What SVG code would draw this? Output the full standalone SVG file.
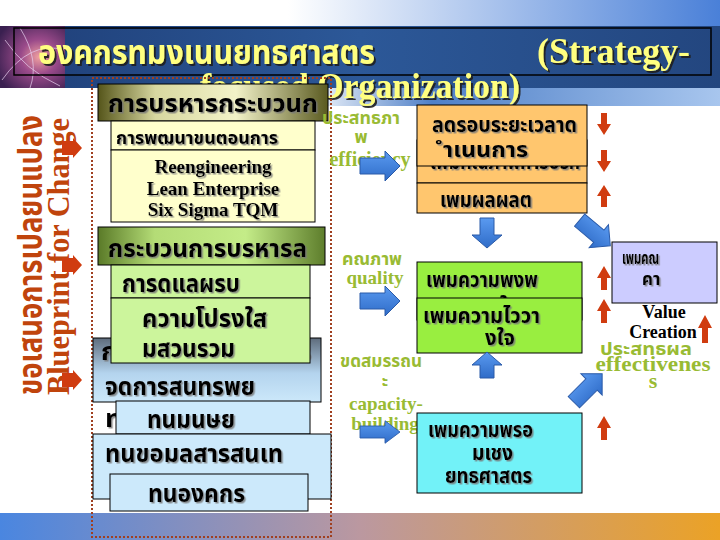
<svg xmlns="http://www.w3.org/2000/svg" width="720" height="540" viewBox="0 0 720 540">
<defs>
<linearGradient id="topStrip" x1="0" y1="0" x2="1" y2="0"><stop offset="0" stop-color="#ffffff"/><stop offset="0.4" stop-color="#ffffff"/><stop offset="1" stop-color="#4a80d8"/></linearGradient>
<linearGradient id="darkBand" x1="0" y1="0" x2="1" y2="0"><stop offset="0" stop-color="#1f3f78"/><stop offset="0.5" stop-color="#2c5898"/><stop offset="1" stop-color="#23467f"/></linearGradient>
<linearGradient id="lowStrip" x1="0" y1="0" x2="1" y2="0"><stop offset="0" stop-color="#ffffff"/><stop offset="0.42" stop-color="#ffffff"/><stop offset="0.6" stop-color="#4f80c8"/><stop offset="1" stop-color="#a8c6ee"/></linearGradient>
<linearGradient id="botBand" x1="0" y1="0" x2="1" y2="0"><stop offset="0" stop-color="#4a86e0"/><stop offset="0.5" stop-color="#bb98a0"/><stop offset="1" stop-color="#eba226"/></linearGradient>
<radialGradient id="globe" cx="0.6" cy="0.5" r="0.7"><stop offset="0" stop-color="#f0a0a0"/><stop offset="0.4" stop-color="#9a4a8a"/><stop offset="1" stop-color="#3a2050"/></radialGradient>
<linearGradient id="olive" x1="0" y1="0" x2="1" y2="0"><stop offset="0" stop-color="#55551a"/><stop offset="0.25" stop-color="#d8d8a0"/><stop offset="0.6" stop-color="#f2f2c8"/><stop offset="1" stop-color="#5a5a20"/></linearGradient>
<linearGradient id="greenHdr" x1="0" y1="0" x2="1" y2="0"><stop offset="0" stop-color="#5a7a28"/><stop offset="0.25" stop-color="#b4dc76"/><stop offset="0.65" stop-color="#c4ec88"/><stop offset="1" stop-color="#5e7e2c"/></linearGradient>
<linearGradient id="greyHdr" x1="0" y1="0" x2="0" y2="1"><stop offset="0" stop-color="#5e6c7c"/><stop offset="0.55" stop-color="#b4d4ee"/><stop offset="1" stop-color="#cce8fa"/></linearGradient>
<linearGradient id="blueArr" x1="0" y1="0" x2="0" y2="1"><stop offset="0" stop-color="#5a9af0"/><stop offset="1" stop-color="#2f6cc8"/></linearGradient>
<filter id="sh" x="-5%" y="-20%" width="110%" height="140%"><feDropShadow dx="1.5" dy="1.5" stdDeviation="0.4" flood-color="#777" flood-opacity="0.8"/></filter>
<filter id="tsh" x="-5%" y="-20%" width="110%" height="140%"><feDropShadow dx="2" dy="2" stdDeviation="0.5" flood-color="#1a1a1a" flood-opacity="0.9"/></filter>
<path id="arrR" d="M-20,-8 H5 V-15 L20,0 L5,15 V8 H-20 Z"/>
</defs>
<style>
.th{font-family:'Noto Sans Thai','Tahoma','DejaVu Sans',sans-serif;font-weight:bold;fill:#000}
.en{font-family:'Liberation Serif',serif;font-weight:bold}
.box{stroke:#000;stroke-width:1}
.barrow{fill:url(#blueArr);stroke:#2a5aa8;stroke-width:1}
.rarrow{fill:#d03c10}
</style>

<!-- background bands -->
<rect x="0" y="0" width="720" height="26" fill="url(#topStrip)"/>
<rect x="0" y="26" width="720" height="62" fill="url(#darkBand)"/>
<rect x="0" y="88" width="720" height="18" fill="url(#lowStrip)"/>
<rect x="0" y="26" width="65" height="62" fill="url(#globe)"/>
<path d="M2,80 Q30,40 64,50 M5,40 Q25,70 60,86 M20,28 Q40,60 30,88" stroke="#e8d0f0" stroke-width="1" fill="none" opacity="0.7"/>
<rect x="14" y="28" width="697" height="47" fill="none" stroke="#000" stroke-width="1.5"/>
<rect x="0" y="513" width="720" height="27" fill="url(#botBand)"/>

<!-- title -->
<g id="title" filter="url(#tsh)" fill="#ffff80">
<text x="38" y="64" class="th" style="fill:#ffff80;font-size:33px" textLength="337" lengthAdjust="spacingAndGlyphs">องคกรทมงเนนยทธศาสตร</text>
<text x="537" y="63" class="en" font-size="35" textLength="153" lengthAdjust="spacingAndGlyphs">(Strategy-</text>
<text x="200" y="98" class="en" font-size="35" textLength="320" lengthAdjust="spacingAndGlyphs">focused Organization)</text>
</g>

<!-- left vertical labels -->
<g id="blueprint" fill="#c0440c">
<text transform="translate(42,395) rotate(-90)" class="th" style="fill:#c0440c;font-size:34px" textLength="280" lengthAdjust="spacingAndGlyphs">ขอเสนอการเปลยนแปลง</text>
<text transform="translate(69,395) rotate(-90)" class="en" font-size="31" textLength="277" lengthAdjust="spacingAndGlyphs">Blueprint for Change</text>
</g>

<!-- dotted frame -->
<rect id="frame" x="92" y="78" width="239" height="459" fill="none" stroke="#a04020" stroke-width="2" stroke-dasharray="2 2"/>

<!-- process management -->
<g id="n-process">
<rect x="98" y="84" width="230" height="37" fill="url(#olive)" class="box"/>
<text x="108" y="112" class="th" style="font-size:24px" filter="url(#sh)" textLength="210" lengthAdjust="spacingAndGlyphs">การบรหารกระบวนก</text>
</g>
<g id="n-develop">
<rect x="111" y="121" width="204" height="29" fill="#ffffcc" class="box"/>
<text x="116" y="144" class="th" style="font-size:18px" filter="url(#sh)" textLength="162" lengthAdjust="spacingAndGlyphs">การพฒนาขนตอนการ</text>
</g>
<g id="n-methods">
<rect x="111" y="150" width="204" height="72" fill="#ffffcc" class="box"/>
<g class="en" font-size="19" text-anchor="middle" filter="url(#sh)">
<text x="213" y="173">Reengineering</text>
<text x="213" y="195">Lean Enterprise</text>
<text x="213" y="216">Six Sigma TQM</text>
</g>
</g>

<!-- governance -->
<g id="n-govern">
<rect x="98" y="227" width="227" height="38" fill="url(#greenHdr)" class="box"/>
<text x="108" y="257" class="th" style="font-size:24px" filter="url(#sh)" textLength="199" lengthAdjust="spacingAndGlyphs">กระบวนการบรหารล</text>
</g>
<g id="n-care">
<rect x="111" y="265" width="199" height="33" fill="#ccf59c" class="box"/>
<text x="122" y="292" class="th" style="font-size:24px" filter="url(#sh)" textLength="118" lengthAdjust="spacingAndGlyphs">การดแลผรบ</text>
</g>

<!-- asset management (partly behind other boxes) -->
<g id="n-asset">
<rect x="93" y="338" width="228" height="64" fill="url(#greyHdr)" class="box"/>
<g class="th" style="font-size:24px" filter="url(#sh)">
<text x="101" y="360" textLength="210" lengthAdjust="spacingAndGlyphs">กระบวนการบรหาร</text>
<text x="105" y="395" textLength="150" lengthAdjust="spacingAndGlyphs">จดการสนทรพย</text>
<text x="105" y="427" textLength="130" lengthAdjust="spacingAndGlyphs">ทไมมตวตน</text>
</g>
</g>
<g id="n-transp">
<rect x="111" y="298" width="199" height="65" fill="#ccf59c" class="box"/>
<g class="th" style="font-size:24px" filter="url(#sh)">
<text x="142" y="327" textLength="125" lengthAdjust="spacingAndGlyphs">ความโปรงใส</text>
<text x="142" y="357" textLength="93" lengthAdjust="spacingAndGlyphs">มสวนรวม</text>
</g>
</g>
<g id="n-human">
<rect x="116" y="401" width="194" height="33" fill="#cce9fb" class="box"/>
<text x="147" y="428" class="th" style="font-size:24px" filter="url(#sh)" textLength="88" lengthAdjust="spacingAndGlyphs">ทนมนษย</text>
</g>
<g id="n-info">
<rect x="93" y="434" width="238" height="65" fill="#cce9fb" class="box"/>
<g class="th" style="font-size:24px" filter="url(#sh)">
<text x="105" y="462" textLength="178" lengthAdjust="spacingAndGlyphs">ทนขอมลสารสนเท</text>
<text x="200" y="492">ศ</text>
</g>
</g>
<g id="n-org">
<rect x="110" y="474" width="198" height="37" fill="#cce9fb" class="box"/>
<text x="148" y="502" class="th" style="font-size:24px" filter="url(#sh)" textLength="97" lengthAdjust="spacingAndGlyphs">ทนองคกร</text>
</g>

<!-- middle labels -->
<g id="labels">
<text x="361" y="124" class="th" style="fill:#99bb33;font-size:18px" text-anchor="middle" textLength="78" lengthAdjust="spacingAndGlyphs">ประสทธภา</text>
<text x="361" y="143" class="th" style="fill:#99bb33;font-size:18px" text-anchor="middle">พ</text>
<text x="370" y="166" class="en" font-size="20" text-anchor="middle" fill="#99bb33">efficiency</text>
<text x="372" y="265" class="th" style="fill:#99bb33;font-size:18px" text-anchor="middle" textLength="60" lengthAdjust="spacingAndGlyphs">คณภาพ</text>
<text x="375" y="284" class="en" font-size="19" text-anchor="middle" fill="#99bb33">quality</text>
<text x="381" y="367" class="th" style="fill:#99bb33;font-size:18px" text-anchor="middle" textLength="82" lengthAdjust="spacingAndGlyphs">ขดสมรรถน</text>
<text x="385" y="387" class="th" style="fill:#99bb33;font-size:18px" text-anchor="middle">ะ</text>
<text x="386" y="410" class="en" font-size="19" text-anchor="middle" fill="#99bb33">capacity-</text>
<text x="385" y="430" class="en" font-size="19" text-anchor="middle" fill="#99bb33">building</text>
</g>

<!-- orange boxes -->
<g id="n-quality2">
<rect x="417" y="140" width="170" height="43" fill="#ffc66e" class="box"/>
<g class="th" style="font-size:22px" filter="url(#sh)">
<text x="430" y="169" textLength="150" lengthAdjust="spacingAndGlyphs">เพมคณภาพการบรก</text>
<text x="432" y="196" textLength="140" lengthAdjust="spacingAndGlyphs">ลดความสญเสย</text>
</g>
</g>
<g id="n-cycle">
<rect x="417" y="105" width="170" height="61" fill="#ffc66e" class="box"/>
<g class="th" style="font-size:22px" filter="url(#sh)">
<text x="432" y="132" textLength="145" lengthAdjust="spacingAndGlyphs">ลดรอบระยะเวลาด</text>
<text x="443" y="157" textLength="85" lengthAdjust="spacingAndGlyphs">ำเนนการ</text>
</g>
</g>
<g id="n-output">
<rect x="417" y="183" width="170" height="30" fill="#ffc66e" class="box"/>
<text x="440" y="207" class="th" style="font-size:22px" filter="url(#sh)" textLength="92" lengthAdjust="spacingAndGlyphs">เพมผลผลต</text>
</g>

<!-- green boxes -->
<g id="n-satisfy">
<rect x="417" y="262" width="165" height="58" fill="#99ee40" class="box"/>
<g class="th" style="font-size:22px" filter="url(#sh)">
<text x="426" y="287" textLength="112" lengthAdjust="spacingAndGlyphs">เพมความพงพ</text>
<text x="488" y="313" textLength="30" lengthAdjust="spacingAndGlyphs">อใจ</text>
</g>
</g>
<g id="n-trust">
<rect x="417" y="298" width="165" height="55" fill="#99ee40" class="box"/>
<g class="th" style="font-size:22px" filter="url(#sh)">
<text x="423" y="323" textLength="117" lengthAdjust="spacingAndGlyphs">เพมความไววา</text>
<text x="485" y="345" textLength="30" lengthAdjust="spacingAndGlyphs">งใจ</text>
</g>
</g>

<!-- cyan box -->
<g id="n-ready">
<rect x="417" y="413" width="165" height="80" fill="#72f2f8" class="box"/>
<g class="th" style="font-size:22px" filter="url(#sh)">
<text x="428" y="437" textLength="105" lengthAdjust="spacingAndGlyphs">เพมความพรอ</text>
<text x="472" y="460" textLength="41" lengthAdjust="spacingAndGlyphs">มเชง</text>
<text x="445" y="483" textLength="87" lengthAdjust="spacingAndGlyphs">ยทธศาสตร</text>
</g>
</g>

<!-- value box -->
<g id="n-value">
<rect x="612" y="242" width="105" height="61" fill="#ccccff" class="box"/>
<g class="th" style="font-size:17px" filter="url(#sh)">
<text x="622" y="264" textLength="37" lengthAdjust="spacingAndGlyphs">เพมคณ</text>
<text x="642" y="285">คา</text>
</g>
<g class="en" font-size="18" text-anchor="middle">
<text x="664" y="318" fill="#000">Value</text>
<text x="663" y="338" fill="#000">Creation</text>
</g>
<text x="646" y="355" class="th" style="fill:#99bb33;font-size:18px" text-anchor="middle" textLength="92" lengthAdjust="spacingAndGlyphs">ประสทธผล</text>
<text x="653" y="371" class="en" font-size="22" text-anchor="middle" fill="#99bb33" textLength="115" lengthAdjust="spacingAndGlyphs">effectivenes</text>
<text x="653" y="388" class="en" font-size="22" text-anchor="middle" fill="#99bb33">s</text>
</g>

<!-- connectors -->
<g id="connectors">
<use href="#arrR" class="barrow" transform="translate(380,166)"/>
<use href="#arrR" class="barrow" transform="translate(380,301)"/>
<use href="#arrR" class="barrow" transform="translate(380,432) scale(1,0.75)"/>
<path class="barrow" d="M480,218 H494 V235 H502 L487,248 L472,235 H480 Z"/>
<path class="barrow" d="M480,378 V365 H472 L487,352 L502,365 H494 V378 Z"/>
<use href="#arrR" class="barrow" transform="translate(595,233) rotate(40)"/>
<use href="#arrR" class="barrow" transform="translate(588,388) rotate(-45)"/>
<g class="rarrow">
<path d="M601,113 H607 V124 H611 L604,135 L597,124 H601 Z"/>
<path d="M601,150 H607 V161 H611 L604,172 L597,161 H601 Z"/>
<path d="M601,207 V196 H597 L604,185 L611,196 H607 V207 Z"/>
<path d="M601,290 V278 H597 L604,266 L611,278 H607 V290 Z"/>
<path d="M601,323 V311 H597 L604,299 L611,311 H607 V323 Z"/>
<path d="M601,440 V428 H597 L604,416 L611,428 H607 V440 Z"/>
<path d="M702,343 V328 H698 L705,315 L712,328 H708 V343 Z"/>
<path d="M62,141 H73 V138 L82,148 L73,158 V155 H62 Z"/>
<path d="M62,258 H73 V255 L82,265 L73,275 V272 H62 Z"/>
<path d="M62,373 H73 V370 L82,380 L73,390 V387 H62 Z"/>
</g>
</g>
</svg>
